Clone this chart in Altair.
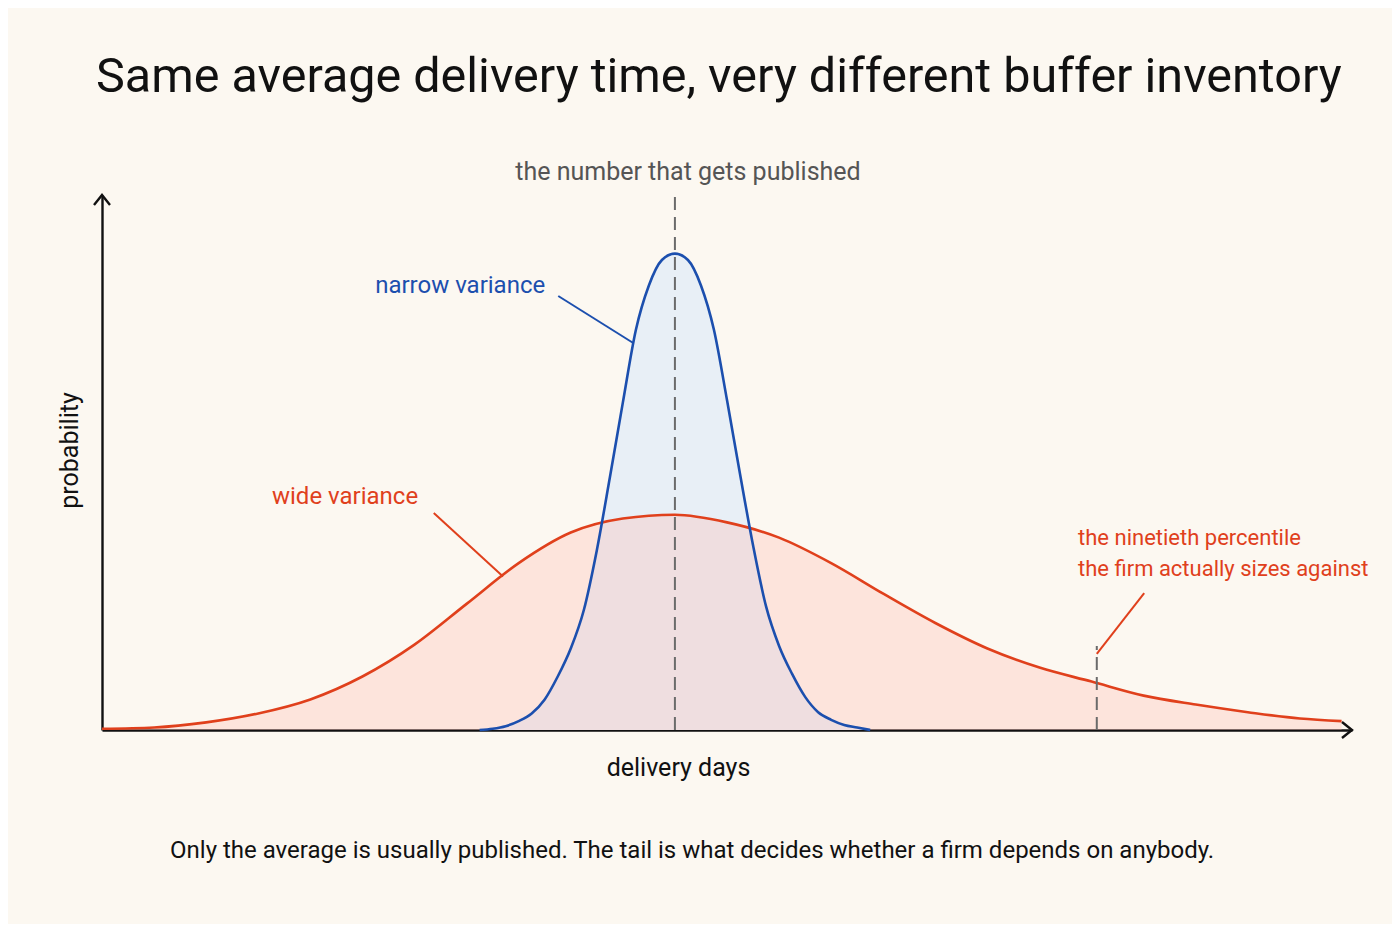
import altair as alt
import pandas as pd

# ---------------- data ----------------
wide_days = [0, 1, 2, 3, 4, 5, 6, 7, 8, 9, 10, 11, 12, 13, 14, 15, 16, 17, 18, 19, 20, 21, 22, 23, 23.8]
wide_prob = [0.001, 0.002, 0.006, 0.013, 0.024, 0.042, 0.067, 0.099, 0.131, 0.155, 0.166, 0.169,
             0.163, 0.151, 0.131, 0.107, 0.084, 0.064, 0.049, 0.038, 0.027, 0.020, 0.014, 0.009, 0.007]

narrow_days = [7.25, 7.5, 7.75, 8.0, 8.25, 8.5, 8.75, 9.0, 9.25, 9.5, 9.75, 10.0, 10.25, 10.5, 10.75,
               11.0, 11.25, 11.5, 11.75, 12.0, 12.25, 12.5, 12.75, 13.0, 13.25, 13.5, 13.75, 14.0,
               14.25, 14.5, 14.75]
narrow_prob = [0.000, 0.001, 0.003, 0.007, 0.013, 0.024, 0.042, 0.064, 0.094, 0.141, 0.198, 0.257,
               0.314, 0.349, 0.369, 0.374, 0.369, 0.349, 0.314, 0.259, 0.201, 0.145, 0.097, 0.066,
               0.044, 0.026, 0.014, 0.008, 0.004, 0.002, 0.000]

mean_day = 11.0
p90_day = 19.1

title_text = "Same average delivery time, very different buffer inventory"
footer_text = "Only the average is usually published. The tail is what decides whether a firm depends on anybody."

# ---------------- styling ----------------
FONT = "Roboto"
BG = "#fcf8f1"
RED = "#e0401c"
BLUE = "#1c4fae"
GREY = "#6b6b6b"
INK = "#111111"

X_DOMAIN = [0, 24]
Y_DOMAIN = [0, 0.42]

xscale = alt.Scale(domain=X_DOMAIN, nice=False, zero=False)
yscale = alt.Scale(domain=Y_DOMAIN, nice=False, zero=False)

xaxis = alt.Axis(title="delivery days", labels=False, ticks=False, grid=False,
                 domainColor=INK, domainWidth=2.4, titleFont=FONT, titleFontSize=25,
                 titleFontWeight="normal", titleColor=INK, titlePadding=25, titleX=576)
yaxis = alt.Axis(title="probability", labels=False, ticks=False, grid=False,
                 domainColor=INK, domainWidth=2.4, titleFont=FONT, titleFontSize=25,
                 titleFontWeight="normal", titleColor=INK, titlePadding=20, titleY=255)


def X(field="days"):
    return alt.X(f"{field}:Q", scale=xscale, axis=xaxis)


def Y(field="prob"):
    return alt.Y(f"{field}:Q", scale=yscale, axis=yaxis)


wide = pd.DataFrame({"days": wide_days, "prob": wide_prob})
narrow = pd.DataFrame({"days": narrow_days, "prob": narrow_prob})

narrow_area = alt.Chart(narrow).mark_area(interpolate="monotone", color="#e8eff6", opacity=1).encode(x=X(), y=Y())
wide_area = alt.Chart(wide).mark_area(interpolate="monotone", color="#ffb5ab", opacity=0.3).encode(x=X(), y=Y())
wide_line = alt.Chart(wide).mark_line(interpolate="monotone", color=RED, strokeWidth=2.6).encode(x=X(), y=Y())
narrow_line = alt.Chart(narrow).mark_line(interpolate="monotone", color=BLUE, strokeWidth=2.6).encode(x=X(), y=Y())

# dashed reference rules (mean and 90th percentile)
rules = pd.DataFrame({"days": [mean_day, p90_day], "prob": [0.0, 0.0], "prob2": [0.42, 0.066]})
rule_layer = alt.Chart(rules).mark_rule(color=GREY, strokeWidth=2, strokeDash=[13, 7]).encode(
    x=X(), y=Y(), y2="prob2:Q")

# leader lines
leaders = pd.DataFrame({
    "days": [8.76, 6.37, 20.01],
    "prob": [0.3407, 0.1703, 0.1075],
    "days2": [10.20, 7.70, 19.10],
    "prob2": [0.3038, 0.1205, 0.0597],
    "who": ["narrow", "wide", "p90"],
})
who_scale = alt.Scale(domain=["narrow", "wide", "p90"], range=[BLUE, RED, RED])
leader_layer = alt.Chart(leaders).mark_rule(strokeWidth=2).encode(
    x=X(), y=Y(), x2="days2:Q", y2="prob2:Q",
    color=alt.Color("who:N", scale=who_scale, legend=None))

# annotation texts
notes_right = pd.DataFrame({"days": [8.51, 6.07], "prob": [0.3485, 0.183],
                            "label": ["narrow variance", "wide variance"], "who": ["narrow", "wide"]})
notes_right_layer = alt.Chart(notes_right).mark_text(align="right", baseline="middle", font=FONT, fontSize=24).encode(
    x=X(), y=Y(), text="label:N",
    color=alt.Color("who:N", scale=who_scale, legend=None))

notes_p90 = pd.DataFrame({"days": [18.74, 18.74], "prob": [0.1507, 0.1264],
                          "label": ["the ninetieth percentile", "the firm actually sizes against"]})
notes_p90_layer = alt.Chart(notes_p90).mark_text(align="left", baseline="middle", font=FONT, fontSize=22,
                                                 color=RED).encode(x=X(), y=Y(), text="label:N")

note_mean = pd.DataFrame({"days": [11.25], "prob": [0.438], "label": ["the number that gets published"]})
note_mean_layer = alt.Chart(note_mean).mark_text(align="center", baseline="middle", font=FONT, fontSize=25,
                                                 color="#555555").encode(x=X(), y=Y(), text="label:N")

footer = pd.DataFrame({"days": [11.33], "prob": [-0.095], "label": [footer_text]})
footer_layer = alt.Chart(footer).mark_text(align="center", baseline="middle", font=FONT, fontSize=24,
                                           color=INK).encode(x=X(), y=Y(), text="label:N")

# axis arrowheads
arrow_path = "M -1.25 -1 L 0 0 L -1.25 1"
x_tip = pd.DataFrame({"days": [X_DOMAIN[1]], "prob": [0.0]})
y_tip = pd.DataFrame({"days": [0.0], "prob": [Y_DOMAIN[1]]})
x_arrow = alt.Chart(x_tip).mark_point(shape=arrow_path, filled=False, size=256, color=INK, strokeWidth=2.4,
                                      opacity=1).encode(x=X(), y=Y())
y_arrow = alt.Chart(y_tip).mark_point(shape=arrow_path, filled=False, size=256, color=INK, strokeWidth=2.4,
                                      opacity=1, angle=270).encode(x=X(), y=Y())

chart = alt.layer(
    narrow_area, wide_area, wide_line, narrow_line, rule_layer, leader_layer,
    notes_right_layer, notes_p90_layer, note_mean_layer, footer_layer, x_arrow, y_arrow,
).properties(
    width=1250,
    height=535,
    title=alt.TitleParams(title_text, anchor="start", frame="group", font=FONT, fontSize=48.5,
                          fontWeight="normal", color=INK, offset=58, dx=-6),
    autosize=alt.AutoSizeParams(type="none"),
    padding={"left": 94, "top": 187, "right": 40, "bottom": 194},
).configure(background=BG).configure_view(stroke=None)

chart.save("out.html", embed_options={"renderer": "svg", "actions": False})
